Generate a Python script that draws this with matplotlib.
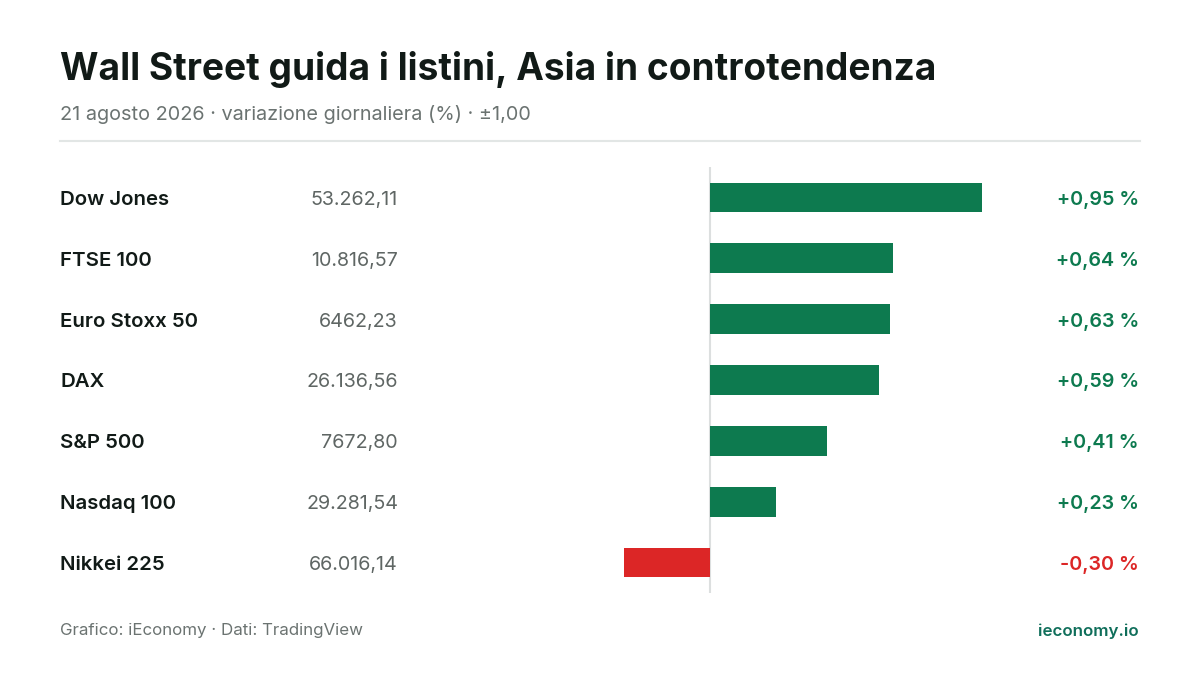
import matplotlib.pyplot as plt
from matplotlib.transforms import blended_transform_factory

# dati
indici = ['Dow Jones', 'FTSE 100', 'Euro Stoxx 50', 'DAX', 'S&P 500', 'Nasdaq 100', 'Nikkei 225']
quotazioni = ['53.262,11', '10.816,57', '6462,23', '26.136,56', '7672,80', '29.281,54', '66.016,14']
variazioni = [0.95, 0.64, 0.63, 0.59, 0.41, 0.23, -0.30]

VERDE = '#0d7a4f'
ROSSO = '#dc2626'
SCURO = '#111a17'
GRIGIO = '#6b7371'

plt.rcParams['font.family'] = ['Inter', 'DejaVu Sans']

fig = plt.figure(figsize=(12, 6.75), dpi=100)
W, H = 1200, 675

# area barre: -1..+1 su x 424..996, righe tra y 167 e 593
ax = fig.add_axes([424 / W, 1 - 593 / H, (996 - 424) / W, (593 - 167) / H])
n = len(indici)
colori = [VERDE if v >= 0 else ROSSO for v in variazioni]
ax.barh(range(n), variazioni, height=0.49, color=colori)
ax.axvline(0, color='#dcdfdf', lw=1.5, zorder=0)
ax.set_xlim(-1, 1)
ax.set_ylim(n - 0.5, -0.5)
ax.axis('off')

tr = blended_transform_factory(fig.transFigure, ax.transData)
dy = 0.04  # piccolo spostamento verso il basso del testo
for i, (nome, q, v) in enumerate(zip(indici, quotazioni, variazioni)):
    ax.text(60 / W, i + dy, nome, transform=tr, ha='left', va='center',
            fontsize=14.7, fontweight='semibold', color=SCURO)
    ax.text(398 / W, i + dy, q, transform=tr, ha='right', va='center',
            fontsize=14.2, color='#5f6664')
    s = f'{v:+.2f} %'.replace('.', ',')
    ax.text(1139 / W, i + dy, s, transform=tr, ha='right', va='center',
            fontsize=14.2, fontweight='semibold', color=VERDE if v >= 0 else ROSSO)

# titolo e sottotitolo
fig.text(60 / W, 1 - 69 / H, 'Wall Street guida i listini, Asia in controtendenza',
         ha='left', va='center', fontsize=26.7, fontweight='bold', color=SCURO)
fig.text(60 / W, 1 - 115 / H, '21 agosto 2026 · variazione giornaliera (%) · ±1,00',
         ha='left', va='center', fontsize=14.3, color=GRIGIO)
fig.add_artist(plt.Line2D([60 / W, 1140 / W], [1 - 141 / H, 1 - 141 / H],
                          color='#e2e6e5', lw=1.5))

# note
fig.text(60 / W, 1 - 631 / H, 'Grafico: iEconomy · Dati: TradingView',
         ha='left', va='center', fontsize=12.2, color=GRIGIO)
fig.text(1139 / W, 1 - 631 / H, 'ieconomy.io', ha='right', va='center',
         fontsize=12.2, fontweight='semibold', color='#0f6e5a')

fig.savefig('out.png', dpi=100, facecolor='white')
